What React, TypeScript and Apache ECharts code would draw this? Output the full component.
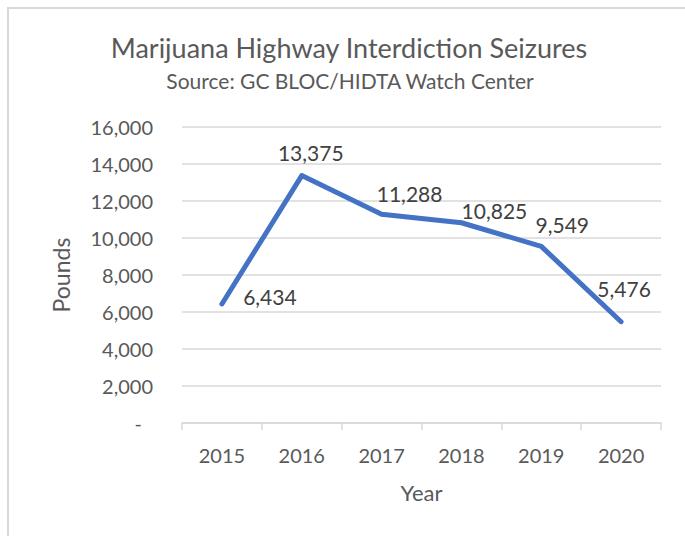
import React, { useEffect, useRef } from "react";
import * as echarts from "echarts";

const years = ["2015", "2016", "2017", "2018", "2019", "2020"];
const seizures = [6434, 13375, 11288, 10825, 9549, 5476];
const labelOffsets = [
  [48, -7],
  [9, -23],
  [28, -21],
  [33, -12],
  [21, -22],
  [3, -33],
];
const yTicks = { min: 0, max: 16000, interval: 2000 };

const FONT = "Lato, 'Open Sans', sans-serif";

export default function App() {
  const ref = useRef<HTMLDivElement>(null);
  useEffect(() => {
    if (!ref.current) return;
    const chart = echarts.init(ref.current, undefined, { renderer: "svg" });
    chart.setOption({
      animation: false,
      backgroundColor: "#ffffff",
      textStyle: { fontFamily: FONT },
      graphic: [
        {
          type: "rect",
          shape: { x: 8, y: 8, width: 720, height: 600 },
          style: { fill: "none", stroke: "#d9d9d9", lineWidth: 2 },
          silent: true,
        },
        {
          type: "text",
          x: 349,
          y: 47,
          style: {
            text: "Marijuana Highway Interdiction Seizures",
            font: `27px ${FONT}`,
            fill: "#595959",
            textAlign: "center",
            textVerticalAlign: "middle",
          },
        },
        {
          type: "text",
          x: 350,
          y: 80,
          style: {
            text: "Source: GC BLOC/HIDTA Watch Center",
            font: `21px ${FONT}`,
            fill: "#595959",
            textAlign: "center",
            textVerticalAlign: "middle",
          },
        },
      ],
      grid: { left: 182, right: 24, top: 127, bottom: 113 },
      xAxis: {
        type: "category",
        data: years,
        boundaryGap: true,
        axisLine: { lineStyle: { color: "#d9d9d9", width: 1.5 } },
        axisTick: { show: true, length: 7, lineStyle: { color: "#d9d9d9", width: 1.5 } },
        axisLabel: { color: "#595959", fontSize: 20, fontFamily: FONT, margin: 22 },
        name: "Year",
        nameLocation: "middle",
        nameGap: 58,
        nameTextStyle: { color: "#595959", fontSize: 22, fontFamily: FONT },
      },
      yAxis: {
        type: "value",
        min: yTicks.min,
        max: yTicks.max,
        interval: yTicks.interval,
        axisLine: { show: false },
        axisTick: { show: false },
        splitLine: { lineStyle: { color: "#d9d9d9", width: 1.5 } },
        axisLabel: {
          color: "#595959",
          fontSize: 20,
          fontFamily: FONT,
          margin: 29,
          formatter: (v: number) => (v === 0 ? "{d|-}" : v.toLocaleString("en-US")),
          rich: { d: { padding: [0, 11, 0, 0], fontSize: 20, color: "#595959", fontFamily: FONT } },
        },
        name: "Pounds",
        nameLocation: "middle",
        nameGap: 110,
        nameTextStyle: { color: "#595959", fontSize: 23, fontFamily: FONT },
      },
      series: [
        {
          type: "line",
          data: seizures.map((v, i) => ({
            value: v,
            label: { offset: labelOffsets[i] },
          })),
          symbol: "circle",
          symbolSize: 4,
          itemStyle: { color: "#4472C4" },
          lineStyle: { color: "#4472C4", width: 5, cap: "round", join: "round" },
          label: {
            show: true,
            position: "inside",
            color: "#404040",
            fontSize: 21,
            fontFamily: FONT,
            formatter: (p: any) => Number(p.value).toLocaleString("en-US"),
          },
        },
      ],
    });
    return () => chart.dispose();
  }, []);
  return (
    <div
      ref={ref}
      style={{ position: "fixed", left: 0, top: 0, width: 685, height: 536 }}
    />
  );
}
